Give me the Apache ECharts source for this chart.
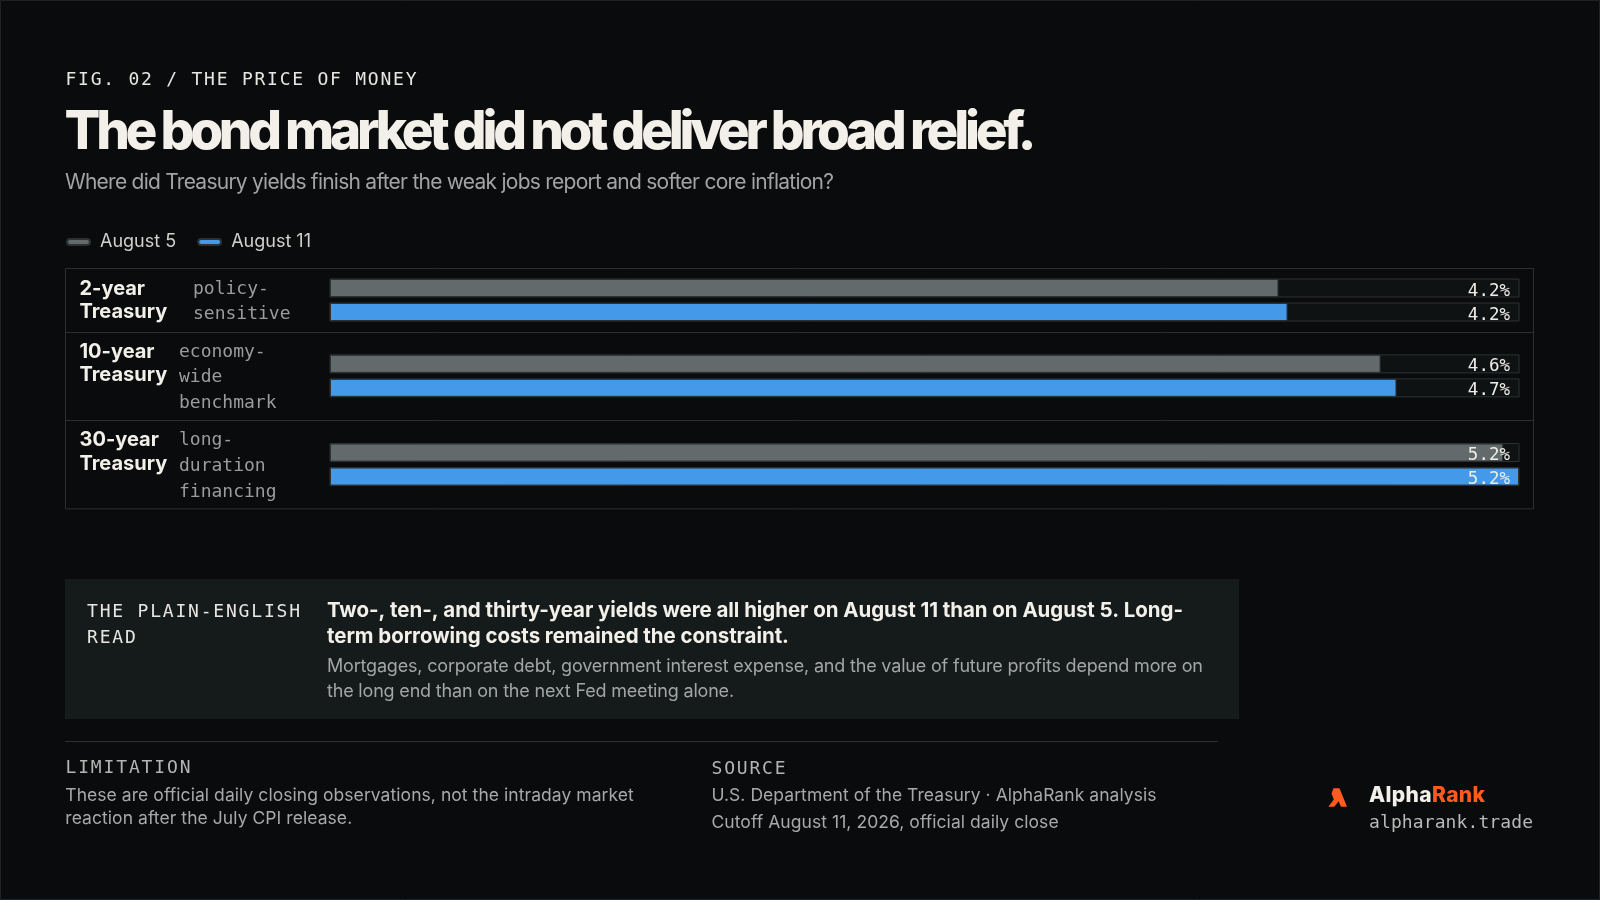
<!DOCTYPE html>
<html>
<head>
<meta charset="utf-8">
<script src="https://cdn.jsdelivr.net/npm/echarts@6/dist/echarts.min.js"></script>
<style>
html,body{margin:0;padding:0;background:#0a0b0d;}
#c{width:1600px;height:900px;}
</style>
</head>
<body>
<div id="c"></div>
<script>
// ---------- data ----------
const seriesNames = ['August 5', 'August 11'];
const categories = ['2-year\nTreasury', '10-year\nTreasury', '30-year\nTreasury'];
const descriptions = ['policy-\nsensitive', 'economy-\nwide\nbenchmark', 'long-\nduration\nfinancing'];
const aug5 = [4.18, 4.63, 5.17];
const aug11 = [4.22, 4.70, 5.24];

const kicker = 'FIG. 02 / THE PRICE OF MONEY';
const titleText = 'The bond market did not deliver broad relief.';
const subtitleText = 'Where did Treasury yields finish after the weak jobs report and softer core inflation?';
const readLabel = ['THE PLAIN-ENGLISH', 'READ'];
const readBold = ['Two-, ten-, and thirty-year yields were all higher on August 11 than on August 5. Long-', 'term borrowing costs remained the constraint.'];
const readBody = ['Mortgages, corporate debt, government interest expense, and the value of future profits depend more on', 'the long end than on the next Fed meeting alone.'];
const limitLabel = 'LIMITATION';
const limitText = ['These are official daily closing observations, not the intraday market', 'reaction after the July CPI release.'];
const sourceLabel = 'SOURCE';
const sourceText = ['U.S. Department of the Treasury \u00b7 AlphaRank analysis', 'Cutoff August 11, 2026, official daily close'];
const brandA = 'Alpha', brandB = 'Rank', brandUrl = 'alpharank.trade';

// ---------- style ----------
const BG = '#0a0b0d';
const SANS = 'Inter, "Noto Sans", sans-serif';
const MONO = '"DejaVu Sans Mono", "Liberation Mono", monospace';
const WHITE = '#f3f0ea';
const GREY_BAR = '#636a6b';
const BLUE_BAR = '#4499e9';
const ORANGE = '#ff5a1f';
const LINE = '#2a2f31';

const mctx = document.createElement('canvas').getContext('2d');
function measure(str, font) { mctx.font = font; return mctx.measureText(str).width; }
function fitSpacing(str, font, target) { return (target - measure(str, font)) / (str.length - 1); }
// letter-spaced text; kerning kept by measuring prefixes that include each glyph
function spaced(str, x, y, font, fill, spacing) {
  mctx.font = font;
  const out = [];
  if (!spacing) {
    out.push({ type: 'text', x: x, y: y, silent: true, style: { text: str, font: font, fill: fill, verticalAlign: 'middle' } });
    return out;
  }
  for (let i = 0; i < str.length; i++) {
    const ch = str[i];
    if (ch === ' ') continue;
    const px = x + mctx.measureText(str.slice(0, i + 1)).width - mctx.measureText(ch).width + i * spacing;
    out.push({ type: 'text', x: px, y: y, silent: true, style: { text: ch, font: font, fill: fill, verticalAlign: 'middle' } });
  }
  return out;
}

// ---------- layout ----------
const TABLE_L = 65.5, TABLE_R = 1533.5, TABLE_T = 268.5;
const LH_DESC = 25.7, PAD = 11.6;
const TRACK_L = 330, TRACK_R = 1519;
const rowH = descriptions.map(d => Math.max(2, d.split('\n').length) * LH_DESC + PAD);
const rowTop = [];
{ let y = TABLE_T; rowH.forEach(h => { rowTop.push(y); y += h; }); }
const TABLE_B = rowTop[rowTop.length - 1] + rowH[rowH.length - 1];
const axisMax = Math.max(...aug5, ...aug11);

const grids = [], xAxes = [], yAxes = [], series = [];
categories.forEach((cat, i) => {
  const center = rowTop[i] + rowH[i] / 2;
  grids.push({ left: TRACK_L, width: TRACK_R - TRACK_L, top: center - 24, height: 48, containLabel: false });
  xAxes.push({ type: 'value', gridIndex: i, min: 0, max: axisMax, show: false, splitLine: { show: false } });
  yAxes.push({ type: 'category', gridIndex: i, inverse: true, data: seriesNames,
    axisLine: { show: false }, axisTick: { show: false }, axisLabel: { show: false } });
  const vals = [aug5[i], aug11[i]];
  yAxes.push({ type: 'category', gridIndex: i, position: 'right', inverse: true, data: seriesNames, z: 10,
    axisLine: { show: false }, axisTick: { show: false },
    axisLabel: { inside: true, margin: 9,
      formatter: (v, idx) => '{s| }\n{v|' + vals[idx].toFixed(1) + '%}',
      rich: {
        s: { lineHeight: 6, fontSize: 4 },
        v: { lineHeight: 20, color: '#eeece7', fontFamily: MONO, fontSize: 17.5 }
      } } });
  series.push({ type: 'bar', name: seriesNames[0], xAxisIndex: i, yAxisIndex: 2 * i, data: [aug5[i], '-'],
    barWidth: 18, barGap: '-100%', z: 2, silent: true,
    showBackground: true, backgroundStyle: { color: '#0e1213', borderColor: '#2c3133', borderWidth: 1 },
    itemStyle: { color: GREY_BAR, borderColor: '#2c3133', borderWidth: 1 } });
  series.push({ type: 'bar', name: seriesNames[1], xAxisIndex: i, yAxisIndex: 2 * i, data: ['-', aug11[i]],
    barWidth: 18, barGap: '-100%', z: 3, silent: true,
    itemStyle: { color: BLUE_BAR, borderColor: '#2c3133', borderWidth: 1 } });
});

// ---------- decorations & text ----------
const g = [];
g.push({ type: 'rect', silent: true, shape: { x: 0.5, y: 0.5, width: 1599, height: 899 }, style: { fill: 'none', stroke: '#1f2326', lineWidth: 1 } });

// kicker + title + subtitle
const fKicker = '18px ' + MONO;
g.push(...spaced(kicker, 65.5, 80.2, fKicker, '#e8e6e1', fitSpacing(kicker, fKicker, 351)));
const fTitle = '800 53px ' + SANS;
g.push(...spaced(titleText, 64.5, 132.6, fTitle, WHITE, fitSpacing(titleText, fTitle, 972)));
const fSub = '21px ' + SANS;
g.push(...spaced(subtitleText, 65, 182.7, fSub, '#a1a4a2', fitSpacing(subtitleText, fSub, 769)));

// table frame
g.push({ type: 'rect', silent: true, shape: { x: TABLE_L, y: TABLE_T, width: TABLE_R - TABLE_L, height: TABLE_B - TABLE_T }, style: { fill: 'none', stroke: LINE, lineWidth: 1 } });
for (let i = 1; i < rowTop.length; i++) {
  const y = Math.round(rowTop[i]) + 0.5;
  g.push({ type: 'line', silent: true, shape: { x1: TABLE_L, y1: y, x2: TABLE_R, y2: y }, style: { stroke: LINE, lineWidth: 1 } });
}
const descX = [193, 179, 179];
categories.forEach((cat, i) => {
  cat.split('\n').forEach((ln, k) => {
    g.push({ type: 'text', silent: true, x: 79.5, y: rowTop[i] + 20 + k * 23.4,
      style: { text: ln, font: 'bold 20px ' + SANS, fill: WHITE, verticalAlign: 'middle' } });
  });
  descriptions[i].split('\n').forEach((ln, k) => {
    g.push({ type: 'text', silent: true, x: descX[i], y: rowTop[i] + 20.5 + k * LH_DESC,
      style: { text: ln, font: '18px ' + MONO, fill: '#9a9d9b', verticalAlign: 'middle' } });
  });
});

// plain-english box
g.push({ type: 'rect', silent: true, shape: { x: 65, y: 579, width: 1174, height: 140 }, style: { fill: '#151a1b' } });
const fRL = '18px ' + MONO;
const spRL = fitSpacing(readLabel[0], fRL, 213);
g.push(...spaced(readLabel[0], 87, 612, fRL, '#e8e6e1', spRL));
g.push(...spaced(readLabel[1], 87, 638, fRL, '#e8e6e1', spRL));
const fRB = 'bold 20.5px ' + SANS;
const spRB = fitSpacing(readBold[0], fRB, 856);
g.push(...spaced(readBold[0], 327, 611.1, fRB, WHITE, spRB));
g.push(...spaced(readBold[1], 327, 637.1, fRB, WHITE, spRB));
const fRG = '18px ' + SANS;
const spRG = fitSpacing(readBody[0], fRG, 876);
g.push(...spaced(readBody[0], 327, 666.9, fRG, '#a3a6a4', spRG));
g.push(...spaced(readBody[1], 327, 691.2, fRG, '#a3a6a4', spRG));

// footer
g.push({ type: 'line', silent: true, shape: { x1: 65, y1: 741.5, x2: 1218, y2: 741.5 }, style: { stroke: '#2e3235', lineWidth: 1 } });
const fFL = '18px ' + MONO;
g.push(...spaced(limitLabel, 65.5, 768.5, fFL, '#b3b5b3', fitSpacing(limitLabel, fFL, 125)));
g.push(...spaced(sourceLabel, 711.5, 768.9, fFL, '#b3b5b3', fitSpacing(sourceLabel, fFL, 74)));
const fFT = '17.5px ' + SANS;
const spLim = fitSpacing(limitText[0], fFT, 568.5);
g.push(...spaced(limitText[0], 65.3, 795.8, fFT, '#a7aaa8', spLim));
g.push(...spaced(limitText[1], 65.3, 818.4, fFT, '#a7aaa8', spLim));
const spSrc = fitSpacing(sourceText[0], fFT, 445);
g.push(...spaced(sourceText[0], 711.5, 795.8, fFT, '#a7aaa8', spSrc));
g.push(...spaced(sourceText[1], 711.5, 822.8, fFT, '#a7aaa8', spSrc));

// brand
g.push({ type: 'polygon', silent: true, shape: { points: [
  [1333.5, 788.3], [1339.5, 788.3], [1347, 806.7], [1341, 806.7],
  [1338.6, 801.2], [1334.3, 806.7], [1328.3, 806.7], [1333.8, 799.5], [1331.5, 793.5]
] }, style: { fill: ORANGE } });
const fBrand = '800 21px ' + SANS;
const spBrand = fitSpacing(brandA + brandB, fBrand, 116);
g.push(...spaced(brandA, 1369, 795.8, fBrand, WHITE, spBrand));
g.push(...spaced(brandB, 1369 + measure(brandA, fBrand) + brandA.length * spBrand, 795.8, fBrand, ORANGE, spBrand));
const fUrl = '18px ' + MONO;
g.push(...spaced(brandUrl, 1369, 823.5, fUrl, '#b8bab8', fitSpacing(brandUrl, fUrl, 164)));

const chart = echarts.init(document.getElementById('c'), null, { renderer: 'canvas', width: 1600, height: 900 });
chart.setOption({
  backgroundColor: BG,
  animation: false,
  legend: {
    data: seriesNames, left: 66, top: 232.5, padding: 0,
    icon: 'path://M3,0 L20,0 A3,3 0 0 1 20,6 L3,6 A3,3 0 0 1 3,0 Z',
    itemWidth: 23, itemHeight: 6, itemGap: 21,
    textStyle: { color: '#d3d1cc', fontSize: 18, fontFamily: SANS, lineHeight: 19, padding: [0, 0, 0, 5] }
  },
  grid: grids,
  xAxis: xAxes,
  yAxis: yAxes,
  series: series,
  graphic: { elements: g }
});
</script>
</body>
</html>
